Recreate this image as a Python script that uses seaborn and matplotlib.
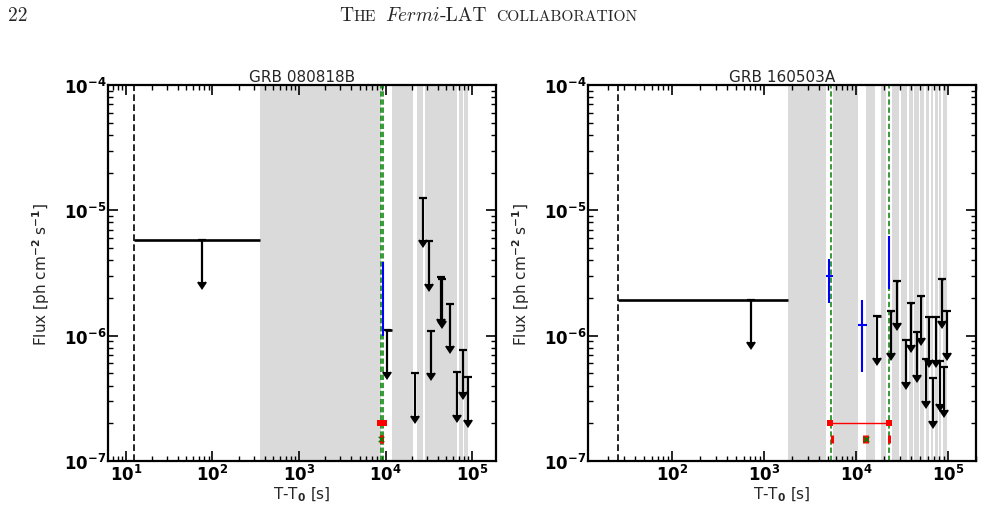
import numpy as np
import matplotlib
matplotlib.use("Agg")
import matplotlib.pyplot as plt
import matplotlib.ticker as mticker
import pandas as pd
import seaborn as sns

W, H = 983, 506

# ---------------------------------------------------------------------------
# GRB 080818B  (left panel)
# ---------------------------------------------------------------------------
a_title = "GRB 080818B"
a_xlim = (6.2, 1.89e5)
a_trigger_end = 12.4
a_occ_start = [354, 11800, 22900, 28900, 70200, 80900]
a_occ_stop = [8750, 20600, 27400, 67600, 78100, 90600]
a_green = [8790, 9440]
a_ul_t = [75.7, 10400, 21800, 27400, 31800, 33600, 43800, 45500, 55700, 67600, 79300, 90600]
a_ul_f = [5.8e-6, 1.11e-6, 5.0e-7, 1.25e-5, 5.66e-6, 1.09e-6, 2.95e-6, 2.85e-6,
          1.79e-6, 5.1e-7, 7.7e-7, 4.65e-7]
a_ul_tmin = [12.4, 9900, 21800, 27400, 31800, 33600, 43800, 45500, 55700, 67600, 79300, 90600]
a_ul_tmax = [354, 11800, 21800, 27400, 31800, 33600, 43800, 45500, 55700, 67600, 79300, 90600]
a_det_t = [9270]
a_det_f = [2.44e-6]
a_det_flo = [1.0e-6]
a_det_fhi = [3.9e-6]
a_det_tmin = [9150]
a_det_tmax = [9350]
a_red_t = [8570, 9530]
a_tick_t = [8750, 9100]
a_cross_t = [8930]

# ---------------------------------------------------------------------------
# GRB 160503A  (right panel)
# ---------------------------------------------------------------------------
b_title = "GRB 160503A"
b_xlim = (12.2, 2.01e5)
b_trigger_end = 26.1
b_occ_start = [1820, 5660, 12900, 18700, 24600, 30600, 37900, 42700, 49700, 57700,
               64900, 72200, 79800, 87500]
b_occ_stop = [4720, 10400, 16100, 21000, 29600, 36100, 41300, 48000, 54900, 61700,
              69200, 77300, 84500, 98200]
b_green = [5310, 23000]
b_ul_t = [722, 16900, 23800, 28100, 34700, 39600, 46000, 50900, 57300, 62700,
          69200, 73500, 81300, 86700, 91200, 96800]
b_ul_f = [1.94e-6, 1.44e-6, 1.58e-6, 2.74e-6, 9.27e-7, 1.82e-6, 1.06e-6, 2.08e-6,
          6.5e-7, 1.40e-6, 4.56e-7, 1.40e-6, 6.24e-7, 2.83e-6, 5.58e-7, 1.58e-6]
b_ul_tmin = [26.1, 16700, 23800, 28100, 34700, 39600, 46000, 50900, 57300, 62700,
             69200, 73500, 81300, 86700, 91200, 96800]
b_ul_tmax = [1820, 18500, 24300, 28600, 34700, 40200, 46000, 51500, 57300, 62700,
             69200, 73500, 81300, 87500, 91200, 97700]
b_det_t = [5090, 11700, 22600]
b_det_f = [2.97e-6, 1.22e-6, 4.34e-6]
b_det_flo = [1.81e-6, 5.09e-7, 2.35e-6]
b_det_fhi = [4.08e-6, 1.92e-6, 6.19e-6]
b_det_tmin = [4720, 10400, 22200]
b_det_tmax = [5580, 13000, 22650]
b_red_t = [5270, 23000]
b_tick_t = [5420, 12300, 13200, 22900]
b_cross_t = [12700]

RED_LEVEL = 2e-7
TICK_LEVEL = 1.5e-7
ARROW = 0.54          # arrow length as a fraction of the upper limit
GREY = "#dadada"

sns.set_theme(style="ticks")
plt.rcParams.update({
    "font.family": ["DejaVu Sans"],
    "mathtext.default": "bf",
    "axes.linewidth": 1.5,
    "axes.edgecolor": "black",
    "xtick.direction": "in", "ytick.direction": "in",
    "xtick.top": True, "ytick.right": True,
    "xtick.major.size": 7, "ytick.major.size": 7,
    "xtick.minor.size": 3.5, "ytick.minor.size": 3.5,
    "xtick.major.width": 1.2, "ytick.major.width": 1.2,
    "xtick.minor.width": 1.0, "ytick.minor.width": 1.0,
    "xtick.color": "black", "ytick.color": "black",
    "xtick.labelsize": 12, "ytick.labelsize": 12,
})


def pow10(v, pos):
    return r"$\mathbf{10^{%d}}$" % int(round(np.log10(v)))


def draw_panel(ax, title, xlim, trig, occ_start, occ_stop, green,
               ul_t, ul_f, ul_tmin, ul_tmax,
               det_t, det_f, det_flo, det_fhi, det_tmin, det_tmax,
               red_t, tick_t, cross_t):
    ax.set_xscale("log")
    ax.set_yscale("log")

    for lo, hi in zip(occ_start, occ_stop):
        ax.axvspan(lo, hi, color=GREY, lw=0, zorder=0)
    ax.axvline(trig, color="black", ls=(0, (4, 2)), lw=1.2, zorder=1)
    for g in green:
        ax.axvline(g, color="green", ls=(0, (3.5, 1.8)), lw=1.1, zorder=2)

    ul_t = np.asarray(ul_t)
    ul_f = np.asarray(ul_f)
    # time bins of the upper limits
    ax.errorbar(ul_t, ul_f,
                xerr=[ul_t - np.asarray(ul_tmin), np.asarray(ul_tmax) - ul_t],
                fmt="none", ecolor="black", elinewidth=1.9, capsize=0, zorder=3)
    # downward arrows
    arrows = ax.errorbar(ul_t, ul_f, yerr=ul_f * ARROW, uplims=True, fmt="none",
                         ecolor="black", elinewidth=1.6, capsize=2.8, capthick=1.6,
                         zorder=3)
    for cl in arrows[1]:
        cl.set_markerfacecolor("black")
        cl.set_markeredgecolor("black")

    det_t = np.asarray(det_t)
    det_f = np.asarray(det_f)
    ax.errorbar(det_t, det_f,
                xerr=[det_t - np.asarray(det_tmin), np.asarray(det_tmax) - det_t],
                yerr=[det_f - np.asarray(det_flo), np.asarray(det_fhi) - det_f],
                fmt="none", ecolor="blue", elinewidth=1.5, capsize=0, zorder=4)

    red = pd.DataFrame({"t": red_t, "f": [RED_LEVEL] * len(red_t)})
    sns.lineplot(data=red, x="t", y="f", ax=ax, color="red", lw=1.0,
                 marker="s", markersize=4, markeredgewidth=0, zorder=5)
    ticks = pd.DataFrame({"t": tick_t, "f": [TICK_LEVEL] * len(tick_t)})
    sns.scatterplot(data=ticks, x="t", y="f", ax=ax, color="red", marker="|",
                    s=30, linewidth=2.2, zorder=5)
    cross = pd.DataFrame({"t": cross_t, "f": [TICK_LEVEL] * len(cross_t)})
    sns.scatterplot(data=cross, x="t", y="f", ax=ax, color="green", marker="x",
                    s=16, linewidth=1.0, zorder=6)

    ax.set_xlim(*xlim)
    ax.set_ylim(1e-7, 1e-4)
    ax.xaxis.set_major_locator(mticker.LogLocator(base=10, numticks=12))
    ax.xaxis.set_minor_locator(mticker.LogLocator(base=10, subs=np.arange(2, 10), numticks=12))
    ax.xaxis.set_major_formatter(mticker.FuncFormatter(pow10))
    ax.yaxis.set_major_formatter(mticker.FuncFormatter(pow10))
    ax.xaxis.set_minor_formatter(mticker.NullFormatter())
    ax.yaxis.set_minor_formatter(mticker.NullFormatter())
    ax.tick_params(axis="x", which="major", pad=2)
    ax.tick_params(axis="y", which="major", pad=1)

    ax.set_title(title, fontsize=11, pad=3)
    ax.set_xlabel(r"T-T$_{0}$ [s]", fontsize=11)
    ax.set_ylabel(r"Flux [ph cm$^{-2}$ s$^{-1}$]", fontsize=11)
    ax.xaxis.set_label_coords(0.5, -0.062)
    ax.yaxis.set_label_coords(-0.145, 0.5)
    for s in ax.spines.values():
        s.set_linewidth(1.6)
        s.set_zorder(10)


fig = plt.figure(figsize=(W / 100, H / 100), dpi=100)
ax1 = fig.add_axes([108 / W, 1 - 462 / H, 388 / W, 376 / H])
ax2 = fig.add_axes([588 / W, 1 - 462 / H, 388 / W, 376 / H])

draw_panel(ax1, a_title, a_xlim, a_trigger_end, a_occ_start, a_occ_stop, a_green,
           a_ul_t, a_ul_f, a_ul_tmin, a_ul_tmax,
           a_det_t, a_det_f, a_det_flo, a_det_fhi, a_det_tmin, a_det_tmax,
           a_red_t, a_tick_t, a_cross_t)
draw_panel(ax2, b_title, b_xlim, b_trigger_end, b_occ_start, b_occ_stop, b_green,
           b_ul_t, b_ul_f, b_ul_tmin, b_ul_tmax,
           b_det_t, b_det_f, b_det_flo, b_det_fhi, b_det_tmin, b_det_tmax,
           b_red_t, b_tick_t, b_cross_t)

# page header (journal running head)
base_y = 1 - 21 / H
fig.text(8 / W, base_y, "22", fontsize=14, family="cmr10", va="baseline", ha="left")
renderer = fig.canvas.get_renderer()
x = 339.0
pieces = [("T", 14, {}), ("HE", 11.2, {}), (None, 9, {}),
          (r"$\mathit{Fermi}$", 14, {"math_fontfamily": "cm"}),
          ("-LAT", 14, {}), (None, 9, {}), ("COLLABORATION", 11.2, {})]
for txt, size, kw in pieces:
    if txt is None:
        x += size
        continue
    t = fig.text(x / W, base_y, txt, fontsize=size, family="cmr10",
                 va="baseline", ha="left", **kw)
    x += t.get_window_extent(renderer).width

fig.savefig("out.png", dpi=100)
